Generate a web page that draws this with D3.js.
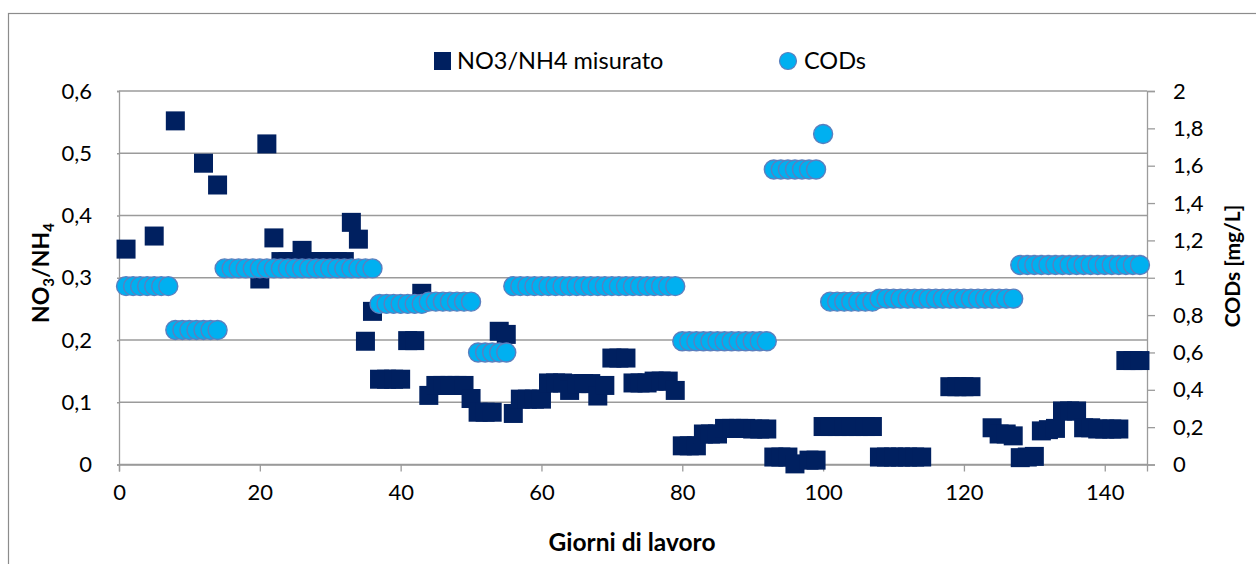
<!DOCTYPE html>
<html>
<head>
<meta charset="utf-8">
<script src="https://d3js.org/d3.v7.min.js"></script>
<style>
  html, body { margin: 0; padding: 0; background: #fff; }
  svg { display: block; }
  text { font-family: Lato, "Open Sans", sans-serif; fill: #000; }
</style>
</head>
<body>
<svg id="chart" width="1256" height="564"></svg>
<script>
// ---- Data ----
const ratioDays = [1,5,8,12,14,20,21,22,23,24,25,26,27,28,29,30,31,32,33,34,35,36,37,38,39,40,41,42,43,44,45,46,47,48,49,50,51,52,53,54,55,56,57,58,59,60,61,62,63,64,65,66,67,68,69,70,71,72,73,74,75,76,77,78,79,80,81,82,83,84,85,86,87,88,89,90,91,92,93,94,95,96,98,99,100,101,102,103,104,105,106,107,108,109,110,111,112,113,114,118,119,120,121,124,125,126,127,128,129,130,131,132,133,134,135,136,137,138,139,140,141,142,143,144,145];
const ratioValues = [0.346,0.367,0.552,0.484,0.449,0.298,0.515,0.364,0.326,0.326,0.326,0.344,0.326,0.326,0.326,0.326,0.326,0.326,0.389,0.362,0.198,0.246,0.137,0.137,0.137,0.137,0.199,0.199,0.275,0.111,0.127,0.127,0.127,0.127,0.127,0.106,0.084,0.084,0.084,0.214,0.209,0.082,0.105,0.105,0.105,0.105,0.131,0.131,0.131,0.119,0.130,0.130,0.130,0.110,0.127,0.171,0.171,0.171,0.131,0.131,0.131,0.134,0.134,0.134,0.119,0.030,0.030,0.030,0.049,0.049,0.049,0.058,0.058,0.058,0.058,0.057,0.057,0.057,0.012,0.012,0.012,0.001,0.007,0.007,0.061,0.061,0.061,0.061,0.061,0.061,0.061,0.061,0.012,0.012,0.012,0.012,0.012,0.012,0.012,0.125,0.125,0.125,0.125,0.059,0.049,0.049,0.046,0.011,0.012,0.013,0.054,0.056,0.058,0.086,0.086,0.086,0.059,0.059,0.057,0.057,0.057,0.057,0.167,0.167,0.167];

const codDays = [1,2,3,4,5,6,7,8,9,10,11,12,13,14,15,16,17,18,19,20,21,22,23,24,25,26,27,28,29,30,31,32,33,34,35,36,37,38,39,40,41,42,43,44,45,46,47,48,49,50,51,52,53,54,55,56,57,58,59,60,61,62,63,64,65,66,67,68,69,70,71,72,73,74,75,76,77,78,79,80,81,82,83,84,85,86,87,88,89,90,91,92,93,94,95,96,97,98,99,100,101,102,103,104,105,106,107,108,109,110,111,112,113,114,115,116,117,118,119,120,121,122,123,124,125,126,127,128,129,130,131,132,133,134,135,136,137,138,139,140,141,142,143,144,145];
const codValues = [0.955,0.955,0.955,0.955,0.955,0.955,0.955,
  0.72,0.72,0.72,0.72,0.72,0.72,0.72,
  1.05,1.05,1.05,1.05,1.05,1.05,1.05,1.05,1.05,1.05,1.05,1.05,1.05,1.05,1.05,1.05,1.05,1.05,1.05,1.05,1.05,1.05,
  0.86,0.86,0.86,0.86,0.86,0.86,0.86,
  0.872,0.872,0.872,0.872,0.872,0.872,0.872,
  0.60,0.60,0.60,0.60,0.60,
  0.955,0.955,0.955,0.955,0.955,0.955,0.955,0.955,0.955,0.955,0.955,0.955,0.955,0.955,0.955,0.955,0.955,0.955,0.955,0.955,0.955,0.955,0.955,0.955,
  0.66,0.66,0.66,0.66,0.66,0.66,0.66,0.66,0.66,0.66,0.66,0.66,0.66,
  1.58,1.58,1.58,1.58,1.58,1.58,1.58,
  1.77,
  0.872,0.872,0.872,0.872,0.872,0.872,0.872,
  0.888,0.888,0.888,0.888,0.888,0.888,0.888,0.888,0.888,0.888,0.888,0.888,0.888,0.888,0.888,0.888,0.888,0.888,0.888,0.888,
  1.068,1.068,1.068,1.068,1.068,1.068,1.068,1.068,1.068,1.068,1.068,1.068,1.068,1.068,1.068,1.068,1.068,1.068];

const xTicks = [0,20,40,60,80,100,120,140];
const leftTicks = [0,0.1,0.2,0.3,0.4,0.5,0.6];
const rightTicks = [0,0.2,0.4,0.6,0.8,1,1.2,1.4,1.6,1.8,2];
const seriesNames = ["NO3/NH4 misurato", "CODs"];

// ---- Layout ----
const svg = d3.select("#chart");
const L = 119, R = 1147, T = 91, B = 464.5;
const x = d3.scaleLinear().domain([0, 146]).range([L, R]);
const yL = d3.scaleLinear().domain([0, 0.6]).range([B, T]);
const yR = d3.scaleLinear().domain([0, 2]).range([B, T]);
const loc = d3.formatLocale({decimal: ",", thousands: ".", grouping: [3], currency: ["", "€"]});
const fmt = v => loc.format("")(+v.toFixed(2));
const gridColor = "#9b9b9b";
const navy = "#002060";
const cyan = "#00B0F0";

// chart border
svg.append("rect").attr("x", 8.5).attr("y", 13.5).attr("width", 1300).attr("height", 600)
  .attr("fill", "none").attr("stroke", "#8c8c8c").attr("stroke-width", 1.2);

// gridlines
svg.append("g").selectAll("line").data(leftTicks).join("line")
  .attr("x1", L).attr("x2", R)
  .attr("y1", d => yL(d)).attr("y2", d => yL(d))
  .attr("stroke", gridColor).attr("stroke-width", 1.3);

// left axis
const gL = svg.append("g").attr("transform", `translate(${L},0)`)
  .call(d3.axisLeft(yL).tickValues(leftTicks).tickSize(2).tickPadding(25).tickFormat(fmt));
// bottom axis
const gB = svg.append("g").attr("transform", `translate(0,${B})`)
  .call(d3.axisBottom(x).tickValues(xTicks).tickSize(7).tickPadding(13).tickFormat(fmt));
// right axis
const gR = svg.append("g").attr("transform", `translate(${R},0)`)
  .call(d3.axisRight(yR).tickValues(rightTicks).tickSize(8).tickPadding(18).tickFormat(fmt));

[gL, gB, gR].forEach(g => {
  g.select(".domain").attr("stroke", gridColor).attr("stroke-width", 1.3);
  g.selectAll(".tick line").attr("stroke", gridColor).attr("stroke-width", 1.3);
  g.selectAll(".tick text").attr("font-family", "Lato, sans-serif").attr("font-size", 22).attr("fill", "#000");
});

// squares (primary axis)
const sq = 19;
svg.append("g").selectAll("rect").data(ratioDays.map((d, i) => [d, ratioValues[i]])).join("rect")
  .attr("x", d => x(d[0]) - sq / 2).attr("y", d => yL(d[1]) - sq / 2)
  .attr("width", sq).attr("height", sq).attr("fill", navy);

// circles (secondary axis)
svg.append("g").selectAll("circle").data(codDays.map((d, i) => [d, codValues[i]])).join("circle")
  .attr("cx", d => x(d[0])).attr("cy", d => yR(d[1])).attr("r", 9.5)
  .attr("fill", cyan).attr("stroke", "#5a7fbf").attr("stroke-width", 1.4);

// axis titles
svg.append("text").attr("x", 632).attr("y", 551).attr("text-anchor", "middle")
  .attr("font-weight", "bold").attr("font-size", 24.5).text("Giorni di lavoro");

const lt = svg.append("text").attr("transform", "translate(49,273) rotate(-90)")
  .attr("text-anchor", "middle").attr("font-weight", "bold").attr("font-size", 23);
lt.append("tspan").text("NO");
lt.append("tspan").attr("font-size", 15).attr("dy", 5).text("3");
lt.append("tspan").attr("dy", -5).text("/NH");
lt.append("tspan").attr("font-size", 15).attr("dy", 5).text("4");

svg.append("text").attr("transform", "translate(1240,266) rotate(-90)")
  .attr("text-anchor", "middle").attr("font-weight", "bold").attr("font-size", 21)
  .text("CODs [mg/L]");

// legend
const lg = svg.append("g");
lg.append("rect").attr("x", 434).attr("y", 52).attr("width", 17).attr("height", 18).attr("fill", navy);
lg.append("text").attr("x", 457).attr("y", 69).attr("font-size", 23.5).text(seriesNames[0]);
lg.append("circle").attr("cx", 788).attr("cy", 61).attr("r", 8.5)
  .attr("fill", cyan).attr("stroke", "#5a7fbf").attr("stroke-width", 1.2);
lg.append("text").attr("x", 804).attr("y", 69).attr("font-size", 23.5).text(seriesNames[1]);
</script>
</body>
</html>
